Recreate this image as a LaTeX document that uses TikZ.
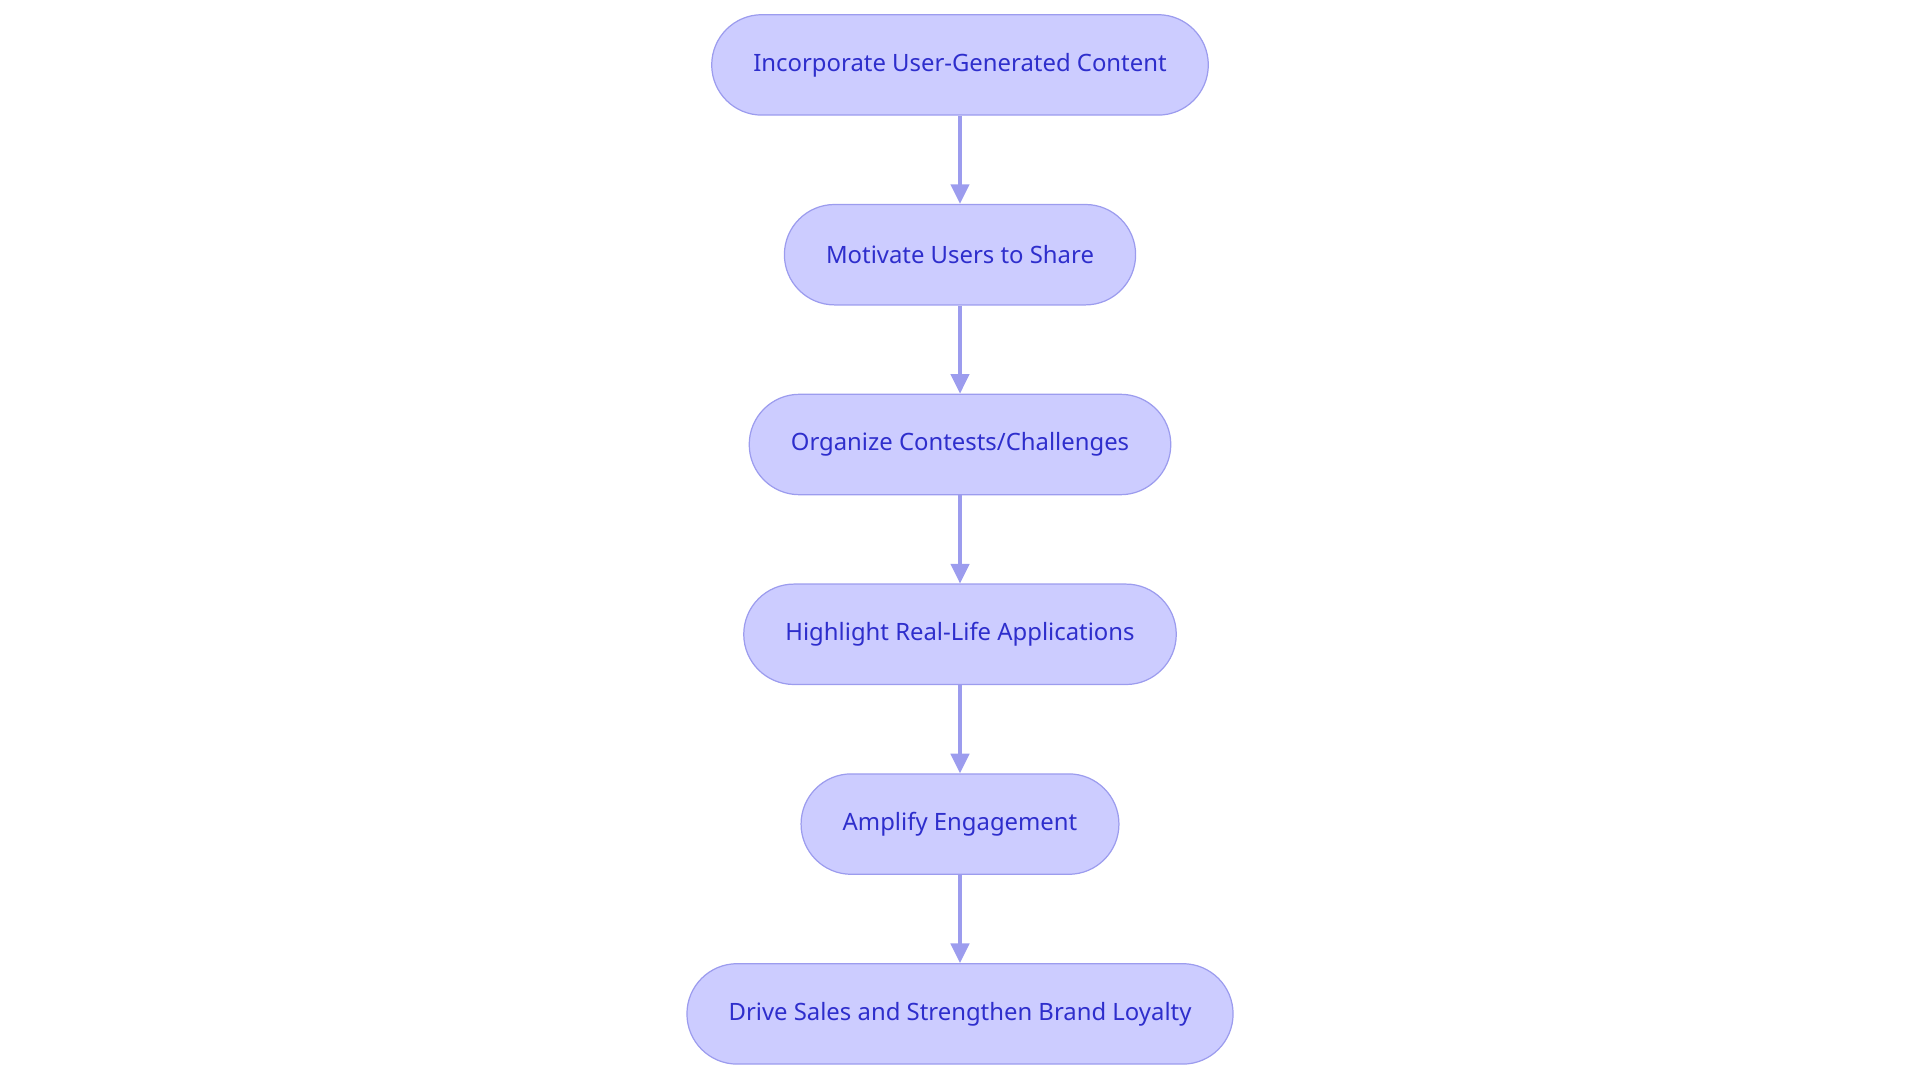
\documentclass[tikz,border=0pt]{standalone}
\usepackage{fontspec}
\setmainfont{Noto Sans}
\usetikzlibrary{positioning,arrows.meta}
\definecolor{stepfill}{HTML}{CCCCFF}
\definecolor{stepline}{HTML}{9C9CEE}
\definecolor{steptext}{HTML}{2E2ECC}
\begin{document}
\begin{tikzpicture}[x=1pt,y=1pt,
% Styles
stage/.style={draw=stepline,fill=stepfill,line width=1pt,rounded corners=41pt,
  minimum height=82pt,inner xsep=34pt,text=steptext,
  font=\fontsize{19.5pt}{23pt}\selectfont},
flow/.style={draw=stepline,line width=2.8pt,-{Triangle[length=16pt,width=15pt]}}]
\useasboundingbox (0,0) rectangle (1568,-884);
\node[stage] (ugc) at (784,-53) {Incorporate User-Generated Content};
\node[stage,below=72pt of ugc] (share) {Motivate Users to Share};
\node[stage,below=72pt of share] (contests) {Organize Contests/Challenges};
\node[stage,below=72pt of contests] (reallife) {Highlight Real-Life Applications};
\node[stage,below=72pt of reallife] (engage) {Amplify Engagement};
\node[stage,below=72pt of engage] (loyalty) {Drive Sales and Strengthen Brand Loyalty};
% Connectors
\foreach \a/\b in {ugc/share,share/contests,contests/reallife,reallife/engage,engage/loyalty}
  \draw[flow] (\a) -- (\b);
\end{tikzpicture}
\end{document}
